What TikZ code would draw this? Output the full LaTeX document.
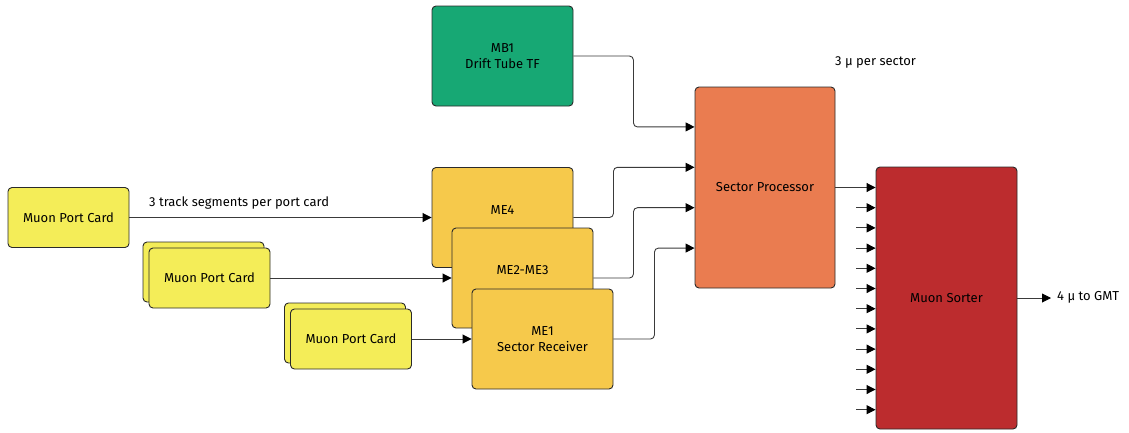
\documentclass[tikz,border=0pt]{standalone}
\usepackage{fontspec}
\setmainfont{Fira Sans}
\usetikzlibrary{arrows.meta,calc}
\definecolor{mbgreen}{HTML}{17A874}
\definecolor{sporange}{HTML}{EA7C50}
\definecolor{msred}{HTML}{BC2C2E}
\definecolor{meyellow}{HTML}{F6C94B}
\definecolor{mpcyellow}{HTML}{F4ED58}
\definecolor{edge}{HTML}{2A2A2A}
\definecolor{wire}{HTML}{3A3A3A}
\begin{document}
\begin{tikzpicture}[x=1pt,y=-1pt,
  box/.style={draw=edge, line width=0.9pt, rounded corners=4pt, inner sep=0pt, font=\fontsize{13}{16.5}\selectfont, align=center},
  mpc/.style={box, fill=mpcyellow, minimum width=121pt, minimum height=60pt},
  me/.style={box, fill=meyellow, minimum width=141pt, minimum height=100pt},
  lbl/.style={inner sep=0pt, font=\fontsize{13}{16.5}\selectfont, align=center},
  conn/.style={draw=wire, line width=0.9pt, rounded corners=4pt, -{Triangle[length=9pt,width=9pt,color=black]}}]
\useasboundingbox (0,0) rectangle (1129,432);

% Drift tube
\node[box, fill=mbgreen, minimum width=141pt, minimum height=100pt] (mb1) at (502.5,56) {MB1\\Drift Tube TF};

% Sector processor
\node[box, fill=sporange, minimum width=140pt, minimum height=201pt] (sp) at (765,187.5) {Sector Processor};
\node[lbl, anchor=west] (splbl) at (835,62) {3 µ per sector};

% Muon sorter
\node[box, fill=msred, minimum width=141pt, minimum height=262pt] (ms) at (946.5,298) {Muon Sorter};

% Sector receivers
\node[me] (me4) at (502.5,217.5) {};
\node[lbl] (me4t) at (502.5,210) {ME4};
\node[me] (me23) at (522.5,278) {};
\node[lbl] (me23t) at (522.5,270) {ME2-ME3};
\node[me] (me1) at (542.5,339) {ME1\\Sector Receiver};

% Muon port cards
\node[mpc] (mpc1) at (68.5,217.5) {Muon Port Card};
\node[mpc] (mpc2b) at (203.5,272) {};
\node[mpc] (mpc2) at (209.5,278) {Muon Port Card};
\node[mpc] (mpc3b) at (345,333) {};
\node[mpc] (mpc3) at (351,339) {Muon Port Card};

% port card -> receivers
\draw[conn] (mpc1.east) -- (me4.west);
\node[lbl, anchor=west] (segs) at (149,203) {3 track segments per port card};
\draw[conn] (mpc2.east) -- (me23.west);
\draw[conn] (mpc3.east) -- (me1.west);

% receivers -> sector processor
\coordinate (spi1) at ($(sp.north west)!0.2!(sp.south west)$);
\coordinate (spi2) at ($(sp.north west)!0.4!(sp.south west)$);
\coordinate (spi3) at ($(sp.north west)!0.6!(sp.south west)$);
\coordinate (spi4) at ($(sp.north west)!0.8!(sp.south west)$);
\draw[conn] (mb1.east) -- ++(60,0) |- (spi1);
\draw[conn] (me4.east) -- ++(40,0) |- (spi2);
\draw[conn] (me23.east) -- ++(40,0) |- (spi3);
\draw[conn] (me1.east) -- ++(41,0) |- (spi4);

% sector processor -> sorter
\draw[conn] (sp.east) -- (ms.west |- sp.east);
\foreach \k in {1,...,11} {
  \coordinate (msin\k) at (856,{187.5+\k*20.2});
  \draw[conn] (msin\k) -- (ms.west |- msin\k);
}

% output
\coordinate (gmt) at (1051,298);
\draw[conn] (ms.east) -- (gmt);
\node[lbl, anchor=west] (gmtlbl) at (1057,297) {4 µ to GMT};
\end{tikzpicture}
\end{document}
